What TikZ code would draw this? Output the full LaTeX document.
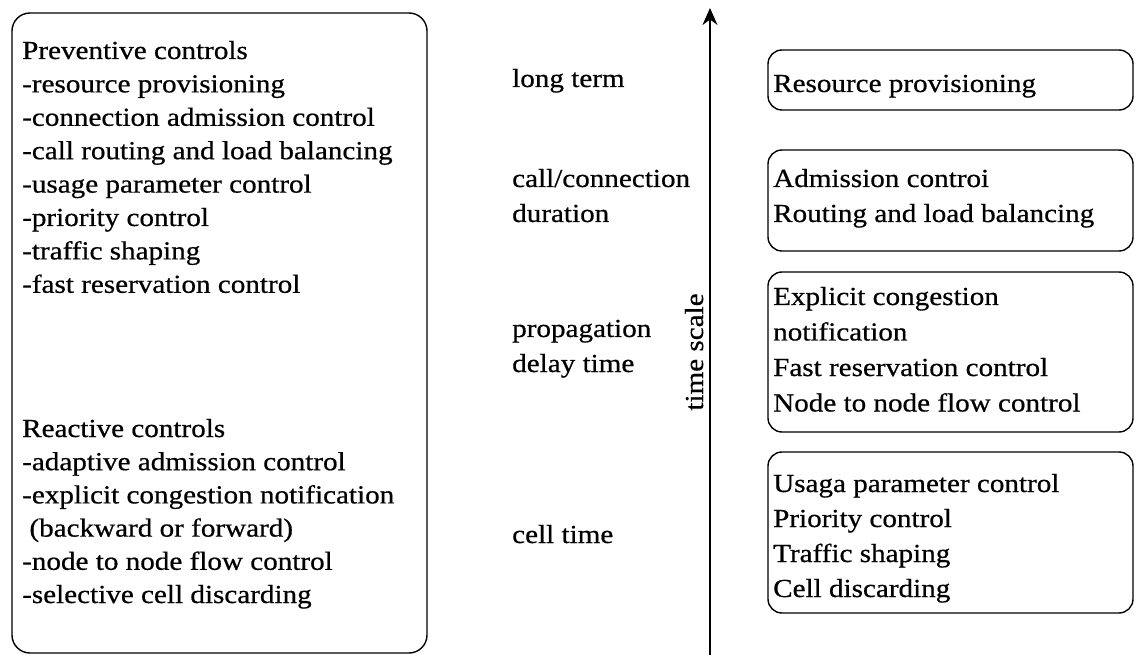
\documentclass[tikz,border=0pt]{standalone}
\usepackage{fontspec}
\setmainfont[FakeStretch=1.12,FakeBold=0.6]{Liberation Serif}
\usetikzlibrary{arrows.meta}

\tikzset{
  panel/.style={draw, line width=1.4pt, rounded corners=18pt, inner sep=0pt},
  ctrlbox/.style={draw, line width=1.4pt, rounded corners=14pt, inner sep=0pt,
    minimum width=365pt},
  txt/.style={anchor=base west, inner sep=0pt, font=\fontsize{26}{30}\selectfont},
  axis/.style={line width=1.8pt, -{Stealth[length=17pt,width=15pt]}},
}

\begin{document}
\begin{tikzpicture}[x=1pt,y=-1pt]
\useasboundingbox (0,0) rectangle (1136,655);

% left panel: list of preventive and reactive controls
\node[panel, minimum width=415pt, minimum height=640pt] (lpanel) at (219.5,333) {};
\foreach \t [count=\i] in {Preventive controls,
    -resource provisioning,
    -connection admission control,
    -call routing and load balancing,
    -usage parameter control,
    -priority control,
    -traffic shaping,
    -fast reservation control}
  \node[txt] (p\i) at (22,{59+33.4*(\i-1)}) {\t};
\foreach \t [count=\i] in {Reactive controls,
    -adaptive admission control,
    -explicit congestion notification,
    \ (backward or forward),
    -node to node flow control,
    -selective cell discarding}
  \node[txt] (r\i) at (22,{437+33.2*(\i-1)}) {\t};

% time scale axis
\coordinate (axisbot) at (710,655);
\coordinate (axistop) at (710,8);
\draw[axis] (axisbot) -- (axistop);
\node[txt, anchor=base, rotate=90] (tscale) at (703,352) {time scale};

% time scale labels
\node[txt] (m1) at (512,87) {long term};
\node[txt] (m2) at (512,187) {call/connection};
\node[txt] (m3) at (512,222) {duration};
\node[txt] (m4) at (512,337) {propagation};
\node[txt] (m5) at (512,372) {delay time};
\node[txt] (m6) at (512,543) {cell time};

% control boxes on the right
\node[ctrlbox, minimum height=60pt] (b1) at (950.5,80) {};
\node[ctrlbox, minimum height=101pt] (b2) at (950.5,200.5) {};
\node[ctrlbox, minimum height=160pt] (b3) at (950.5,352) {};
\node[ctrlbox, minimum height=161pt] (b4) at (950.5,532.5) {};

\node[txt] (b1t1) at (773,92) {Resource provisioning};
\node[txt] (b2t1) at (773,187) {Admission controi};
\node[txt] (b2t2) at (773,222) {Routing and load balancing};
\foreach \t [count=\i] in {Explicit congestion,
    notification,
    Fast reservation control,
    Node to node flow control}
  \node[txt] (b3t\i) at (773,{305+35.5*(\i-1)}) {\t};
\foreach \t [count=\i] in {Usaga parameter control,
    Priority control,
    Traffic shaping,
    Cell discarding}
  \node[txt] (b4t\i) at (773,{492+35*(\i-1)}) {\t};
\end{tikzpicture}
\end{document}
